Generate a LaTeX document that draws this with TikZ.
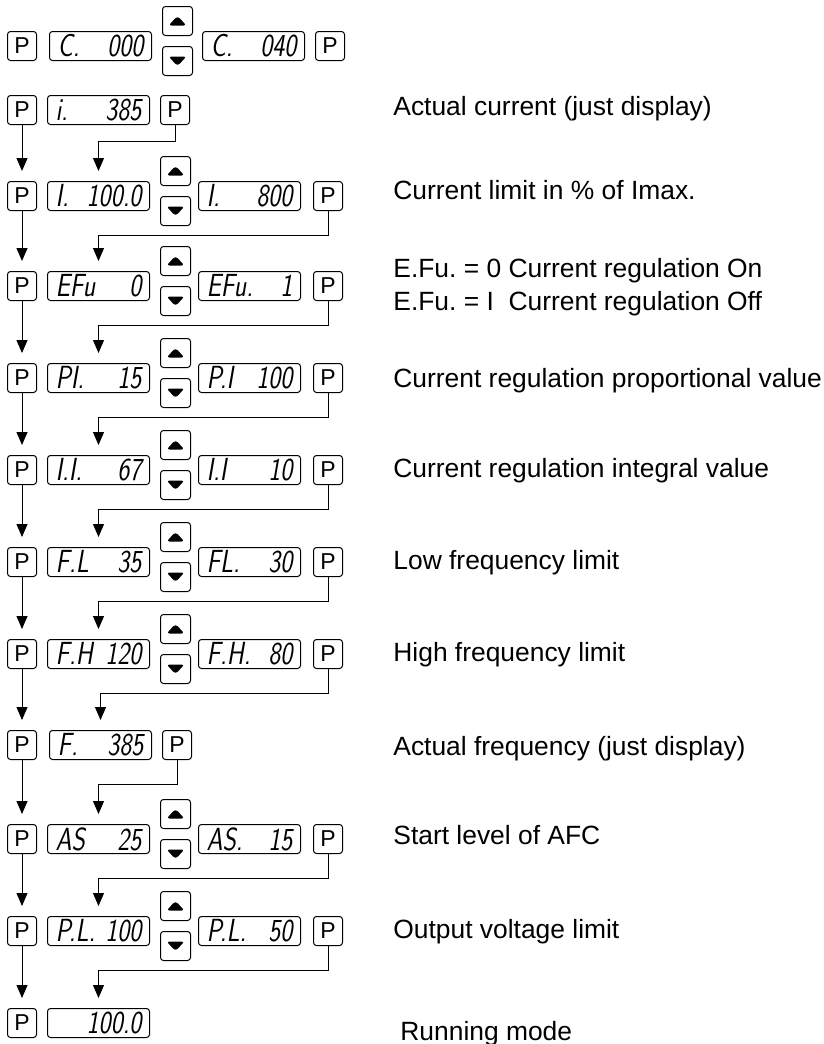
\documentclass[tikz,border=0pt]{standalone}
\usepackage{fontspec}
\usepackage{graphicx}
\usepackage{tikz}
\usetikzlibrary{arrows.meta,positioning}
\setmainfont{Liberation Sans}
\frenchspacing
\newcommand\lcdfont{\sffamily\itshape\fontsize{16}{16}\selectfont}
\newcommand\lcd[2]{\makebox[43pt]{\scalebox{0.8}[1]{#1}\hfill\scalebox{0.8}[1]{#2}}}

\begin{document}
\begin{tikzpicture}[
  x=0.5pt, y=0.5pt,
  pkey/.style={rectangle, rounded corners=1.5pt, draw, line width=0.5pt,
    minimum width=14.5pt, minimum height=14.5pt, inner sep=0pt,
    font=\fontsize{11.5}{11.5}\selectfont},
  lcdbox/.style={rectangle, rounded corners=1.5pt, draw, line width=0.5pt,
    minimum width=51pt, minimum height=14.5pt, inner sep=0pt, font=\lcdfont},
  upkey/.style={pkey, minimum width=15pt, path picture={
    \fill[shift={(path picture bounding box.center)}]
      (-4.5pt,-2.25pt) -- (4.5pt,-2.25pt) -- (0pt,2.5pt) -- cycle;}},
  downkey/.style={pkey, minimum width=15pt, path picture={
    \fill[shift={(path picture bounding box.center)}]
      (-4.5pt,2.25pt) -- (4.5pt,2.25pt) -- (0pt,-2.5pt) -- cycle;}},
  lbl/.style={anchor=base west, inner sep=0pt, font=\fontsize{13.2}{16}\selectfont},
  flow/.style={-{Triangle[width=5.5pt,length=6.5pt]}, line width=0.5pt, shorten >=5pt}
]
  \useasboundingbox (0,0) rectangle (824,-1044);

  % row 0
  \node[pkey] (pL0) at (22,-46) {P};
  \node[lcdbox, right=6pt of pL0] (dA0) {\lcd{C.}{000}};
  \node[upkey, right=5pt of dA0, yshift=12.5pt] (up0) {};
  \node[downkey, right=5pt of dA0, yshift=-7.5pt] (dn0) {};
  \node[lcdbox, right=25pt of dA0] (dB0) {\lcd{C.}{040}};
  \node[pkey, right=5pt of dB0] (pR0) {P};

  % row 1
  \node[pkey] (pL1) at (22,-110) {P};
  \node[lcdbox, right=5pt of pL1] (dA1) {\lcd{i.}{385}};
  \node[pkey, right=5pt of dA1] (pR1) {P};
  \node[lbl] (t1) at (393,-115.5) {Actual current (just display)};

  % row 2
  \node[pkey] (pL2) at (22,-196) {P};
  \node[lcdbox, right=5pt of pL2] (dA2) {\lcd{I.}{100.0}};
  \node[upkey, right=5pt of dA2, yshift=12.5pt] (up2) {};
  \node[downkey, right=5pt of dA2, yshift=-7.5pt] (dn2) {};
  \node[lcdbox, right=24pt of dA2] (dB2) {\lcd{I.}{800}};
  \node[pkey, right=6pt of dB2] (pR2) {P};
  \node[lbl] (t2) at (393,-199.5) {Current limit in \% of Imax.};

  % row 3
  \node[pkey] (pL3) at (22,-286) {P};
  \node[lcdbox, right=5pt of pL3] (dA3) {\lcd{EFu}{0}};
  \node[upkey, right=5pt of dA3, yshift=12.5pt] (up3) {};
  \node[downkey, right=5pt of dA3, yshift=-7.5pt] (dn3) {};
  \node[lcdbox, right=24pt of dA3] (dB3) {\lcd{EFu.}{1}};
  \node[pkey, right=6pt of dB3] (pR3) {P};
  \node[lbl] (t3a) at (393,-277) {E.Fu. = 0 Current regulation On};
  \node[lbl] (t3b) at (393,-310) {E.Fu. = I\ \ Current regulation Off};

  % row 4
  \node[pkey] (pL4) at (22,-378) {P};
  \node[lcdbox, right=5pt of pL4] (dA4) {\lcd{PI.}{15}};
  \node[upkey, right=5pt of dA4, yshift=12.5pt] (up4) {};
  \node[downkey, right=5pt of dA4, yshift=-7.5pt] (dn4) {};
  \node[lcdbox, right=24pt of dA4] (dB4) {\lcd{P.I}{100}};
  \node[pkey, right=6pt of dB4] (pR4) {P};
  \node[lbl] (t4) at (393,-387.5) {Current regulation proportional value};

  % row 5
  \node[pkey] (pL5) at (22,-470) {P};
  \node[lcdbox, right=5pt of pL5] (dA5) {\lcd{I.I.}{67}};
  \node[upkey, right=5pt of dA5, yshift=12.5pt] (up5) {};
  \node[downkey, right=5pt of dA5, yshift=-7.5pt] (dn5) {};
  \node[lcdbox, right=24pt of dA5] (dB5) {\lcd{I.I}{10}};
  \node[pkey, right=6pt of dB5] (pR5) {P};
  \node[lbl] (t5) at (393,-477) {Current regulation integral value};

  % row 6
  \node[pkey] (pL6) at (22,-562) {P};
  \node[lcdbox, right=5pt of pL6] (dA6) {\lcd{F.L}{35}};
  \node[upkey, right=5pt of dA6, yshift=12.5pt] (up6) {};
  \node[downkey, right=5pt of dA6, yshift=-7.5pt] (dn6) {};
  \node[lcdbox, right=24pt of dA6] (dB6) {\lcd{FL.}{30}};
  \node[pkey, right=6pt of dB6] (pR6) {P};
  \node[lbl] (t6) at (393,-569) {Low frequency limit};

  % row 7
  \node[pkey] (pL7) at (22,-654) {P};
  \node[lcdbox, right=5pt of pL7] (dA7) {\lcd{F.H}{120}};
  \node[upkey, right=5pt of dA7, yshift=12.5pt] (up7) {};
  \node[downkey, right=5pt of dA7, yshift=-7.5pt] (dn7) {};
  \node[lcdbox, right=24pt of dA7] (dB7) {\lcd{F.H.}{80}};
  \node[pkey, right=6pt of dB7] (pR7) {P};
  \node[lbl] (t7) at (393,-661.5) {High frequency limit};

  % row 8
  \node[pkey] (pL8) at (22,-745) {P};
  \node[lcdbox, right=6pt of pL8] (dA8) {\lcd{F.}{385}};
  \node[pkey, right=5pt of dA8] (pR8) {P};
  \node[lbl] (t8) at (393,-755.5) {Actual frequency (just display)};

  % row 9
  \node[pkey] (pL9) at (22,-839) {P};
  \node[lcdbox, right=5pt of pL9] (dA9) {\lcd{AS}{25}};
  \node[upkey, right=5pt of dA9, yshift=12.5pt] (up9) {};
  \node[downkey, right=5pt of dA9, yshift=-7.5pt] (dn9) {};
  \node[lcdbox, right=24pt of dA9] (dB9) {\lcd{AS.}{15}};
  \node[pkey, right=6pt of dB9] (pR9) {P};
  \node[lbl] (t9) at (393,-844.5) {Start level of AFC};

  % row 10
  \node[pkey] (pL10) at (22,-931) {P};
  \node[lcdbox, right=5pt of pL10] (dA10) {\lcd{P.L.}{100}};
  \node[upkey, right=5pt of dA10, yshift=12.5pt] (up10) {};
  \node[downkey, right=5pt of dA10, yshift=-7.5pt] (dn10) {};
  \node[lcdbox, right=24pt of dA10] (dB10) {\lcd{P.L.}{50}};
  \node[pkey, right=6pt of dB10] (pR10) {P};
  \node[lbl] (t10) at (393,-938.5) {Output voltage limit};

  % row 11
  \node[pkey] (pL11) at (22,-1023) {P};
  \node[lcdbox, right=5pt of pL11] (dA11) {\lcd{}{100.0}};
  \node[lbl] (t11) at (400,-1040) {Running mode};

  % P steps down the left side
  \draw[flow] (pL1) -- (pL2);
  \draw[flow] (pL2) -- (pL3);
  \draw[flow] (pL3) -- (pL4);
  \draw[flow] (pL4) -- (pL5);
  \draw[flow] (pL5) -- (pL6);
  \draw[flow] (pL6) -- (pL7);
  \draw[flow] (pL7) -- (pL8);
  \draw[flow] (pL8) -- (pL9);
  \draw[flow] (pL9) -- (pL10);
  \draw[flow] (pL10) -- (pL11);

  % P on the right goes to the next value
  \draw[flow] (pR1.south) -- ++(0,-8pt) -| (dA2.north);
  \draw[flow] (pR2.south) -- ++(0,-12pt) -| (dA3.north);
  \draw[flow] (pR3.south) -- ++(0,-12pt) -| (dA4.north);
  \draw[flow] (pR4.south) -- ++(0,-12pt) -| (dA5.north);
  \draw[flow] (pR5.south) -- ++(0,-12pt) -| (dA6.north);
  \draw[flow] (pR6.south) -- ++(0,-12pt) -| (dA7.north);
  \draw[flow] (pR7.south) -- ++(0,-12pt) -| (dA8.north);
  \draw[flow] (pR8.south) -- ++(0,-12pt) -| (dA9.north);
  \draw[flow] (pR9.south) -- ++(0,-12pt) -| (dA10.north);
  \draw[flow] (pR10.south) -- ++(0,-12pt) -| (dA11.north);
\end{tikzpicture}
\end{document}
